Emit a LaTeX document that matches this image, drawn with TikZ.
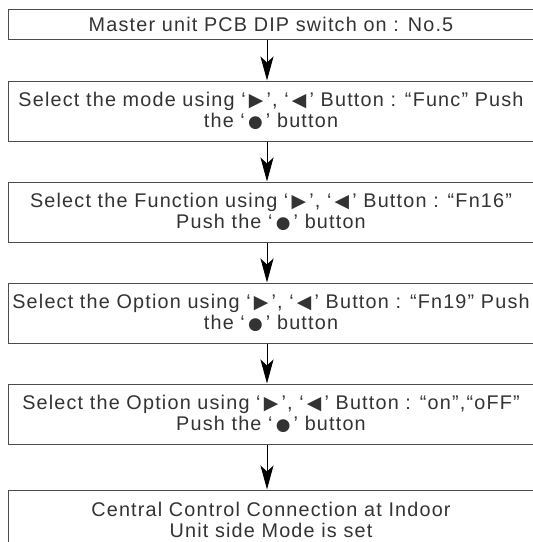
\documentclass[tikz,border=0pt]{standalone}
\usepackage{fontspec}
\setmainfont[LetterSpace=6]{Liberation Sans}
\newfontfamily\symfont{DejaVu Sans}
\usetikzlibrary{arrows.meta}
\newcommand\rtri{\hspace{1.6pt}{\symfont\scalebox{0.95}{▶}}\hspace{1.6pt}}
\newcommand\ltri{\hspace{1.6pt}{\symfont\scalebox{0.95}{◀}}\hspace{1.6pt}}
\newcommand\bdot{\hspace{1.6pt}{\symfont\scalebox{0.85}{●}}\hspace{1.6pt}}

\begin{document}
\begin{tikzpicture}[x=0.5pt,y=-0.5pt,
  stepbox/.style={draw=black!70,line width=0.5pt,minimum width=263pt,inner sep=0pt,
    align=center,text=black!80,font=\fontsize{9.9pt}{10.5pt}\selectfont},
  flow/.style={-{Stealth[length=12pt,width=6.5pt,inset=3pt]},line width=0.5pt}]
\useasboundingbox (0,0) rectangle (533,542);
\node[stepbox,minimum height=15pt] (master) at (271,24) {Master unit PCB DIP switch on : No.5};
\node[stepbox,minimum height=30pt] (mode) at (271,111)
  {Select the mode using ‘\rtri’, ‘\ltri’ Button : “Func” Push\\the ‘\bdot’ button};
\node[stepbox,minimum height=30pt] (func) at (271,212)
  {Select the Function using ‘\rtri’, ‘\ltri’ Button : “Fn16”\\Push the ‘\bdot’ button};
\node[stepbox,minimum height=30pt] (opt) at (271,313)
  {Select the Option using ‘\rtri’, ‘\ltri’ Button : “Fn19” Push\\the ‘\bdot’ button};
\node[stepbox,minimum height=30pt] (onoff) at (271,414)
  {Select the Option using ‘\rtri’, ‘\ltri’ Button : “on”,“oFF”\\Push the ‘\bdot’ button};
\node[stepbox,minimum height=30pt] (done) at (271,520)
  {Central Control Connection at Indoor\\Unit side Mode is set};
% arrows
\draw[flow] ([xshift=-2pt]master.south)--([xshift=-2pt]mode.north);
\draw[flow] ([xshift=-2pt]mode.south)--([xshift=-2pt]func.north);
\draw[flow] ([xshift=-2pt]func.south)--([xshift=-2pt]opt.north);
\draw[flow] ([xshift=-2pt]opt.south)--([xshift=-2pt]onoff.north);
\draw[flow] ([xshift=-2pt]onoff.south)--([xshift=-2pt]done.north);
\end{tikzpicture}
\end{document}
